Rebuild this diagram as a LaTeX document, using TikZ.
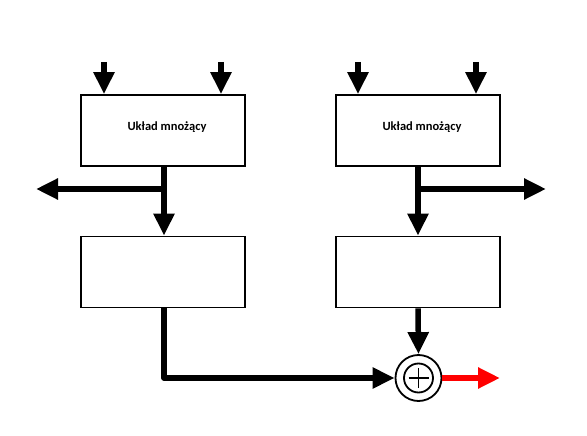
\documentclass[tikz,border=0pt]{standalone}
\usepackage{fontspec}
\setmainfont{Carlito}
\usetikzlibrary{arrows.meta}
\begin{document}
\begin{tikzpicture}[x=1pt,y=-1pt,
  blockbox/.style={draw,line width=1.8pt,fill=white,minimum width=164pt,minimum height=71pt,inner sep=0pt},
  blocktext/.style={font=\fontsize{12.5}{14}\selectfont\bfseries,inner sep=0pt},
  sig/.style={line width=5.5pt,line join=round,-{Triangle[length=22pt,width=20pt]}},
  wire/.style={line width=5.5pt,line join=round},
  summer/.style={draw,circle,line width=1.8pt,minimum size=46pt,inner sep=0pt}]
\useasboundingbox (0,0) rectangle (587,436);
% multipliers
\node[blockbox] (m1) at (163,130.5) {};
\node[blockbox] (m2) at (418,130.5) {};
\node[blocktext] (t1) at ([xshift=4pt,yshift=3pt]m1.center) {Układ mnożący};
\node[blocktext] (t2) at ([xshift=4pt,yshift=3pt]m2.center) {Układ mnożący};
% lower blocks
\node[blockbox] (d1) at (163,272) {};
\node[blockbox] (d2) at (418,272) {};
% adder
\node[summer] (sum) at (418.5,378) {};
\draw[line width=1.8pt] (sum.center) circle (14.5pt);
\draw[line width=1.8pt] ([xshift=-10pt]sum.center) -- ([xshift=10pt]sum.center)
                        ([yshift=-10pt]sum.center) -- ([yshift=10pt]sum.center);
% inputs
\coordinate (i1) at (104,62);
\coordinate (i2) at (221,62);
\coordinate (i3) at (358,62);
\coordinate (i4) at (476,62);
\draw[sig] (i1) -- (i1 |- m1.north);
\draw[sig] (i2) -- (i2 |- m1.north);
\draw[sig] (i3) -- (i3 |- m2.north);
\draw[sig] (i4) -- (i4 |- m2.north);
% branch points and side outputs
\coordinate (j1) at (164,189);
\coordinate (j2) at (418,189);
\coordinate (o1) at (36,189);
\coordinate (o2) at (546,189);
\draw[wire] (m1.south -| j1) -- (j1);
\draw[wire] (m2.south -| j2) -- (j2);
\draw[sig] (j1) -- (o1);
\draw[sig] (j2) -- (o2);
\draw[sig] (j1) -- (j1 |- d1.north);
\draw[sig] (j2) -- (j2 |- d2.north);
% to the adder
\draw[sig] (d1.south -| j1) -- (j1 |- sum.west) -- (sum.west);
\draw[sig] (d2.south -| j2) -- (sum.north);
% result
\coordinate (out) at (500,378);
\draw[sig,red] (sum.east) -- (out);
\end{tikzpicture}
\end{document}
